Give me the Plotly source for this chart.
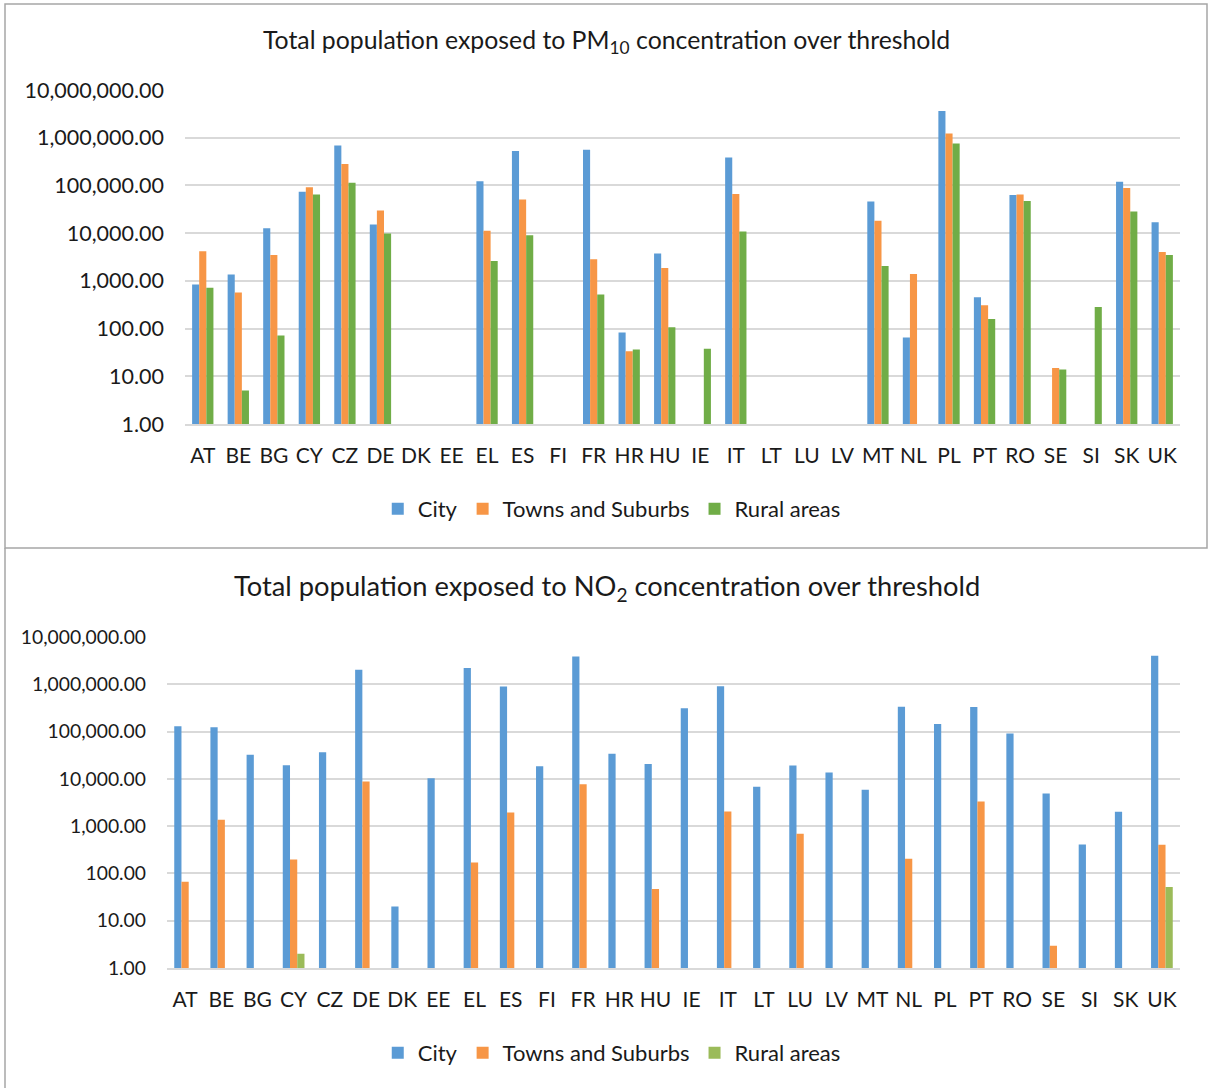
import plotly.graph_objects as go

countries = ["AT", "BE", "BG", "CY", "CZ", "DE", "DK", "EE", "EL", "ES", "FI", "FR", "HR", "HU",
             "IE", "IT", "LT", "LU", "LV", "MT", "NL", "PL", "PT", "RO", "SE", "SI", "SK", "UK"]

pm10_city = [838, 1356, 12700, 73400, 690000, 15200, None, None, 123000, 526000, None, 561000, 82.5, 3736,
             None, 387000, None, None, None, 46200, 64.9, 3620000, 456, 62700, None, None, 119000, 17000]
pm10_towns = [4170, 571, 3490, 92000, 281000, 29800, None, None, 11200, 50900, None, 2833, 33.6, 1871,
              None, 65800, None, None, None, 18100, 1400, 1232000, 310, 64800, 14.9, None, 88000, 4046]
pm10_rural = [713, 5.05, 71.4, 64500, 113700, 9800, None, None, 2615, 9080, None, 518, 36.4, 106.6,
              37.6, 10800, None, None, None, 2056, None, 760000, 158, 47000, 13.8, 283, 28500, 3503]

no2_city = [129500, 123000, 32300, 19400, 36400, 2040000, 20.1, 10300, 2210000, 893000, 18500, 3890000, 34100, 20700,
            310000, 907000, 6785, 19100, 13600, 5862, 336000, 145000, 330000, 90800, 4910, 411, 2004, 4010000]
no2_towns = [66.7, 1359, None, 198, None, 8790, None, None, 171, 1941, None, 7727, None, 46.7,
             None, 2036, None, 690, None, None, 204, None, 3304, None, 2.96, None, None, 404]
no2_rural = [None, None, None, 2.0, None, None, None, None, None, None, None, None, None, None,
             None, None, None, None, None, None, None, None, None, None, None, None, None, 51.4]

series_names = ["City", "Towns and Suburbs", "Rural areas"]
colors_top = ["#5B9BD5", "#F79646", "#70AD47"]
colors_bottom = ["#5B9BD5", "#F79646", "#9BBB59"]

tick_vals = [1, 10, 100, 1000, 10000, 100000, 1000000, 10000000]
tick_text = ["1.00", "10.00", "100.00", "1,000.00", "10,000.00", "100,000.00", "1,000,000.00", "10,000,000.00"]

W, H = 1209, 1088
FONT = "Lato, 'Open Sans', sans-serif"
TXT = "#1a1a1a"

fig = go.Figure()

for name, vals, col in zip(series_names, [pm10_city, pm10_towns, pm10_rural], colors_top):
    fig.add_trace(go.Bar(x=countries, y=vals, name=name, marker=dict(color=col, line=dict(width=0)),
                         xaxis="x", yaxis="y", legend="legend"))
for name, vals, col in zip(series_names, [no2_city, no2_towns, no2_rural], colors_bottom):
    fig.add_trace(go.Bar(x=countries, y=vals, name=name, marker=dict(color=col, line=dict(width=0)),
                         xaxis="x2", yaxis="y2", legend="legend2"))

def px_x(v):
    return v / W

def px_y(v):
    return 1 - v / H

yaxis_common = dict(type="log", range=[0, 7], tickvals=tick_vals, ticktext=tick_text,
                    showgrid=True, gridcolor="#D9D9D9", gridwidth=1.5, zeroline=False,
                    showline=False, ticks="", tickfont=dict(family=FONT, size=21.5, color=TXT),
                    ticklabelstandoff=20, fixedrange=True, automargin=False)
xaxis_common = dict(type="category", showgrid=False, zeroline=False, showline=True,
                    linecolor="#D9D9D9", linewidth=1.5, ticks="",
                    tickfont=dict(family=FONT, size=21, color=TXT), ticklabelstandoff=12, fixedrange=True,
                    automargin=False)

legend_common = dict(orientation="h", xanchor="center", yanchor="middle",
                     font=dict(family=FONT, size=22, color=TXT), bgcolor="rgba(0,0,0,0)",
                     itemclick=False, itemdoubleclick=False, itemwidth=30, tracegroupgap=0)

fig.update_layout(
    width=W, height=H, autosize=False,
    margin=dict(l=0, r=0, t=0, b=0, pad=0, autoexpand=False),
    paper_bgcolor="white", plot_bgcolor="white",
    barmode="group", bargap=0.4, bargroupgap=0,
    font=dict(family=FONT, color=TXT),
    xaxis=dict(xaxis_common, domain=[px_x(185), px_x(1180)], anchor="y"),
    yaxis=dict(yaxis_common, domain=[px_y(424), px_y(90)], anchor="x"),
    xaxis2=dict(xaxis_common, domain=[px_x(167), px_x(1180)], anchor="y2"),
    yaxis2=dict(yaxis_common, domain=[px_y(968), px_y(637)], anchor="x2",
                tickfont=dict(family=FONT, size=19.3, color=TXT)),
    legend=dict(legend_common, x=0.506, y=px_y(509)),
    legend2=dict(legend_common, x=0.506, y=px_y(1053)),
    annotations=[
        dict(text="Total population exposed to PM<sub>10</sub> concentration over threshold",
             x=px_x(606), y=px_y(41), xref="paper", yref="paper", showarrow=False,
             xanchor="center", yanchor="middle", font=dict(family=FONT, size=24.8, color=TXT)),
        dict(text="Total population exposed to NO<sub>2</sub> concentration over threshold",
             x=px_x(607), y=px_y(587), xref="paper", yref="paper", showarrow=False,
             xanchor="center", yanchor="middle", font=dict(family=FONT, size=27.3, color=TXT)),
    ],
    shapes=[
        dict(type="rect", xref="paper", yref="paper", x0=px_x(5), x1=px_x(1207), y0=px_y(548), y1=px_y(4),
             line=dict(color="#A6A6A6", width=1.5)),
        dict(type="line", xref="paper", yref="paper", x0=px_x(5), x1=px_x(5), y0=px_y(548), y1=0,
             line=dict(color="#A6A6A6", width=1.5)),
    ],
)

fig.write_html("out.html", config={"displayModeBar": False, "responsive": False},
               post_script="document.body.style.margin='0';document.body.style.overflow='hidden';")
